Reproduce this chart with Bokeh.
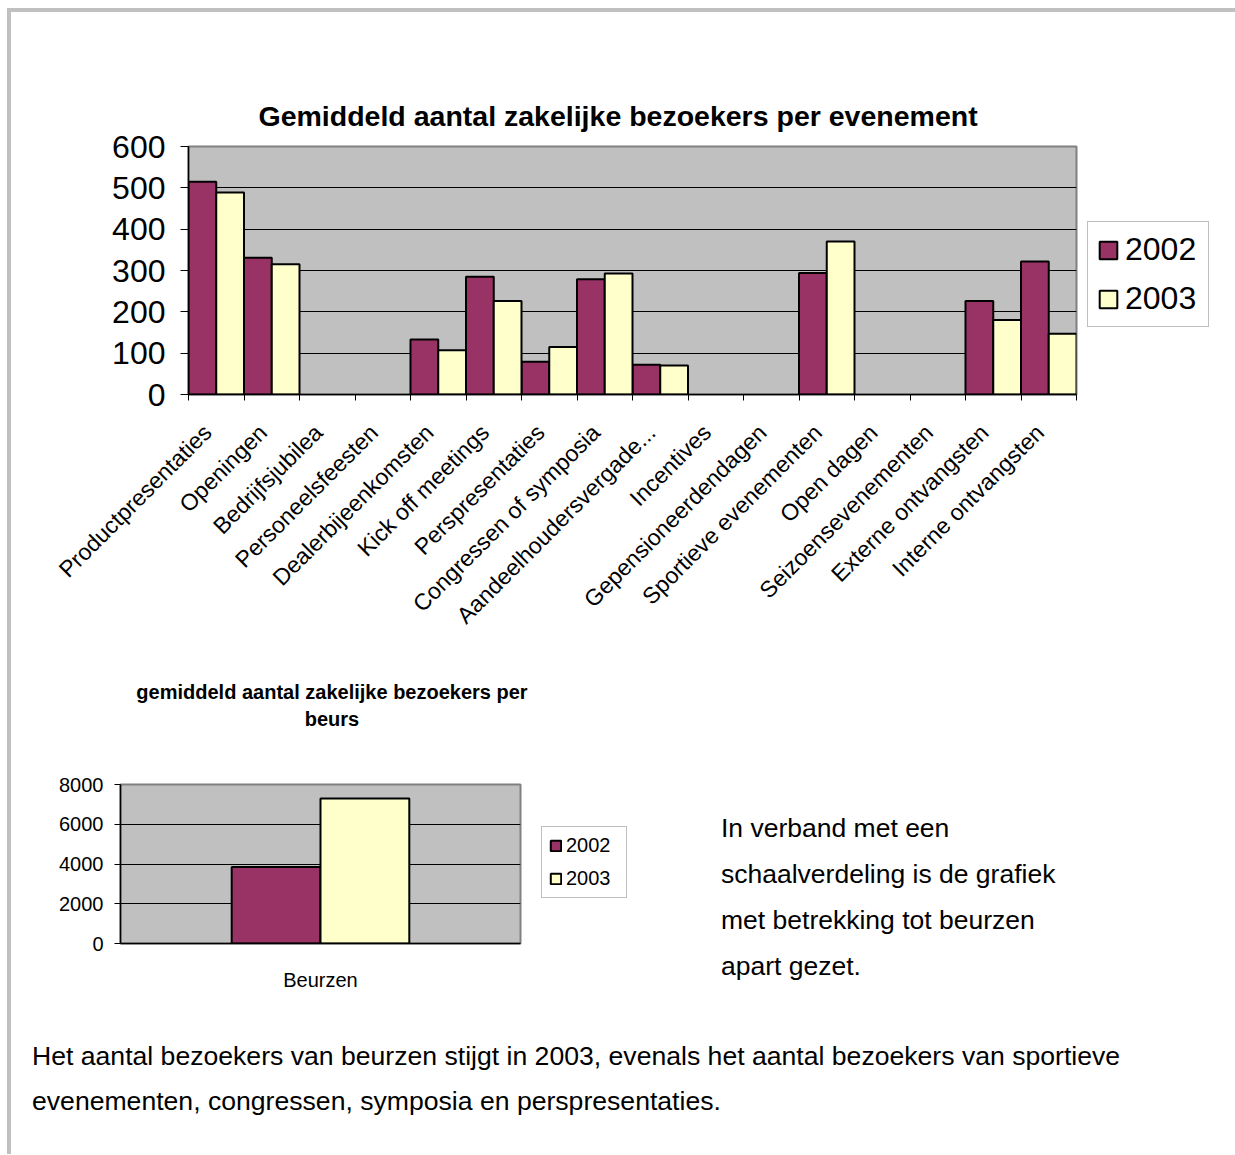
import math

from bokeh.embed import file_html
from bokeh.layouts import column, row
from bokeh.models import (ColumnDataSource, Div, FactorRange, FixedTicker, Legend,
                          LegendItem, LinearAxis, Range1d, Title)
from bokeh.plotting import figure
from bokeh.resources import INLINE
from bokeh.transform import dodge

# ---- data -------------------------------------------------------------
categories = [
    "Productpresentaties", "Openingen", "Bedrijfsjubilea", "Personeelsfeesten",
    "Dealerbijeenkomsten", "Kick off meetings", "Perspresentaties",
    "Congressen of symposia", "Aandeelhoudersvergade...", "Incentives",
    "Gepensioneerdendagen", "Sportieve evenementen", "Open dagen",
    "Seizoensevenementen", "Externe ontvangsten", "Interne ontvangsten",
]
visitors_2002 = [515, 331, None, None, 133, 285, 79, 279, 72, None, None, 294, None, None, 226, 322]
visitors_2003 = [489, 315, None, None, 107, 226, 115, 293, 70, None, None, 370, None, None, 180, 147]
y_ticks_events = [0, 100, 200, 300, 400, 500, 600]

fair_category = ["Beurzen"]
fair_2002 = [3850]
fair_2003 = [7300]
y_ticks_fairs = [0, 2000, 4000, 6000, 8000]

series_labels = ["2002", "2003"]

title_events = "Gemiddeld aantal zakelijke bezoekers per evenement"
title_fairs = ["gemiddeld aantal zakelijke bezoekers per", "beurs"]
note_lines = ["In verband met een", "schaalverdeling is de grafiek",
              "met betrekking tot beurzen", "apart gezet."]
summary_lines = [
    "Het aantal bezoekers van beurzen stijgt in 2003, evenals het aantal bezoekers van sportieve",
    "evenementen, congressen, symposia en perspresentaties.",
]

# ---- styling ----------------------------------------------------------
FONT = "Liberation Sans"
CSS_FONT = "font-family:'Liberation Sans',Arial,sans-serif;color:#000;white-space:nowrap;"
PLUM = "#993366"
IVORY = "#FFFFCC"
PLOT_BG = "#C0C0C0"
NAN = float("nan")


def legend_panel(width, height, items_style, loc, font_size, glyph, standoff,
                 label_width, spacing, padding):
    """A small plot that only carries the series legend, next to a chart.

    Its frame lines up with the neighbouring chart's frame, so ``loc`` is
    measured from that frame's bottom edge.
    """
    lg = figure(width=width, height=height, x_range=Range1d(0, 1), y_range=Range1d(0, 1),
                min_border=0, x_axis_location=None, y_axis_location=None,
                output_backend="svg", toolbar_location=None)
    lg.outline_line_color = None
    lg.background_fill_color = "white"
    lg.border_fill_color = "white"
    lg.xgrid.visible = False
    lg.ygrid.visible = False
    items = []
    for label, fill in items_style:
        # a single undefined bar: nothing is plotted, but the legend swatch is
        r = lg.vbar(x=[NAN], top=[NAN], width=1, fill_color=fill,
                    line_color="black", line_width=2)
        items.append(LegendItem(label=label, renderers=[r]))
    lg.add_layout(Legend(
        items=items, location=loc, orientation="vertical",
        label_text_font=FONT, label_text_font_size=font_size, label_text_color="black",
        glyph_width=glyph, glyph_height=glyph, label_standoff=standoff,
        label_width=label_width, spacing=spacing, padding=padding, margin=0,
        border_line_color="#808080", border_line_width=1,
        background_fill_color="white", background_fill_alpha=1,
    ), "center")
    return lg


series_style = list(zip(series_labels, [PLUM, IVORY]))

# ---- events chart -----------------------------------------------------
# every category occupies two units on the x scale: boundaries on even
# numbers, the category centre on the odd number in between
n = len(categories)
centres = [2 * i + 1 for i in range(n)]
boundaries = list(range(0, 2 * n + 1, 2))
label_pos = [c - 0.32 for c in centres]  # rotated labels end just left of the centre
src = ColumnDataSource(dict(
    x=centres,
    v2002=[NAN if v is None else v for v in visitors_2002],
    v2003=[NAN if v is None else v for v in visitors_2003],
))

p = figure(
    x_range=Range1d(0, 2 * n), y_range=Range1d(0, 600),
    frame_width=888, frame_height=248,
    min_border_left=177, min_border_right=11,
    min_border_top=134, min_border_bottom=276,
    x_axis_location=None,
    output_backend="svg", toolbar_location=None,
)
p.border_fill_color = "white"
p.background_fill_color = PLOT_BG
p.outline_line_color = "#808080"
p.outline_line_width = 2

p.vbar(x=dodge("x", -0.5), top="v2002", width=1.0,
       source=src, fill_color=PLUM, line_color="black", line_width=2)
p.vbar(x=dodge("x", 0.5), top="v2003", width=1.0,
       source=src, fill_color=IVORY, line_color="black", line_width=2)

# y axis
yax = p.yaxis[0]
yax.ticker = FixedTicker(ticks=y_ticks_events)
yax.major_label_text_font = FONT
yax.major_label_text_font_size = "32px"
yax.major_label_text_color = "black"
yax.major_tick_out = 8
yax.major_tick_in = 0
yax.minor_tick_out = 0
yax.minor_tick_in = 0
yax.major_label_standoff = 15
yax.axis_line_color = "black"
yax.axis_line_width = 1.5
p.ygrid.ticker = FixedTicker(ticks=y_ticks_events[1:-1])
p.ygrid.grid_line_color = "black"
p.ygrid.grid_line_width = 1
for g in p.xgrid:
    g.visible = False

# x axis: tick marks on the category boundaries, labels on the centres
tick_axis = LinearAxis(
    ticker=FixedTicker(ticks=boundaries),
    major_label_overrides={b: "" for b in boundaries}, major_label_standoff=0,
    major_tick_out=6, major_tick_in=0, minor_tick_out=0, minor_tick_in=0,
    axis_line_color="black", axis_line_width=1.5,
)
p.add_layout(tick_axis, "below")
label_axis = LinearAxis(
    ticker=FixedTicker(ticks=label_pos),
    major_label_overrides={c: name for c, name in zip(label_pos, categories)},
    major_tick_line_color=None, minor_tick_line_color=None, axis_line_color=None,
    major_label_orientation=math.pi / 4, major_label_standoff=22,
    major_label_text_font=FONT, major_label_text_font_size="23px",
    major_label_text_color="black",
)
p.add_layout(label_axis, "below")

p.title = Title(text=title_events, align="left", offset=70, standoff=30,
                text_font=FONT, text_font_size="28.5px", text_font_style="bold",
                text_color="black")

events_legend = legend_panel(148, 658, series_style, (0, 67), "32px", 22, 6, 74, 12, 9)

# ---- fairs chart ------------------------------------------------------
fair_title = Div(
    text=("<div style=\"" + CSS_FONT + "font-size:20px;font-weight:bold;"
          "line-height:27px;text-align:center;width:642px;padding-top:9px\">"
          + "<br>".join(title_fairs) + "</div>"),
    width=629, height=70, margin=0,
)

fsrc = ColumnDataSource(dict(cat=fair_category, v2002=fair_2002, v2003=fair_2003))
q = figure(
    x_range=FactorRange(*fair_category), y_range=Range1d(0, 8000),
    frame_width=400, frame_height=159,
    min_border_left=109, min_border_right=21,
    min_border_top=44, min_border_bottom=57,
    output_backend="svg", toolbar_location=None,
)
q.border_fill_color = "white"
q.background_fill_color = PLOT_BG
q.outline_line_color = "#808080"
q.outline_line_width = 2

bar_w = 0.222
q.vbar(x=dodge("cat", -bar_w / 2, range=q.x_range), top="v2002", width=bar_w,
       source=fsrc, fill_color=PLUM, line_color="black", line_width=2)
q.vbar(x=dodge("cat", bar_w / 2, range=q.x_range), top="v2003", width=bar_w,
       source=fsrc, fill_color=IVORY, line_color="black", line_width=2)

qy = q.yaxis[0]
qy.ticker = FixedTicker(ticks=y_ticks_fairs)
qy.major_label_text_font = FONT
qy.major_label_text_font_size = "20px"
qy.major_label_text_color = "black"
qy.major_tick_out = 6
qy.major_tick_in = 0
qy.minor_tick_out = 0
qy.minor_tick_in = 0
qy.major_label_standoff = 11
qy.axis_line_color = "black"
qy.axis_line_width = 1.5
q.ygrid.ticker = FixedTicker(ticks=y_ticks_fairs[1:-1])
q.ygrid.grid_line_color = "black"
q.ygrid.grid_line_width = 1

qx = q.xaxis[0]
qx.major_tick_line_color = None
qx.minor_tick_line_color = None
qx.axis_line_color = "black"
qx.axis_line_width = 1.5
qx.major_label_text_font = FONT
qx.major_label_text_font_size = "20px"
qx.major_label_text_color = "black"
qx.major_label_standoff = 19
q.xgrid.visible = False

fairs_legend = legend_panel(99, 260, series_style, (0, 45), "20px", 13, 4, 53, 10, 7)

# ---- text blocks ------------------------------------------------------
note = Div(
    text=("<div style=\"" + CSS_FONT + "font-size:26.5px;line-height:46px;"
          "padding:135px 0 0 81px\">" + "<br>".join(note_lines) + "</div>"),
    width=595, height=330, margin=0,
)
summary = Div(
    text=("<div style=\"" + CSS_FONT + "font-size:26.6px;line-height:45px;"
          "padding:34px 0 0 21px\">" + "<br>".join(summary_lines) + "</div>"),
    width=1224, height=154, margin=0,
)

page = column(
    row(p, events_legend, spacing=0),
    row(column(fair_title, row(q, fairs_legend, spacing=0), spacing=0), note, spacing=0),
    summary,
    spacing=0, margin=(8, 0, 0, 7),
    styles={"border-left": "4px solid #C0C0C0", "border-top": "4px solid #C0C0C0",
            "background-color": "white"},
)

open("out.html", "w").write(file_html(page, INLINE))
